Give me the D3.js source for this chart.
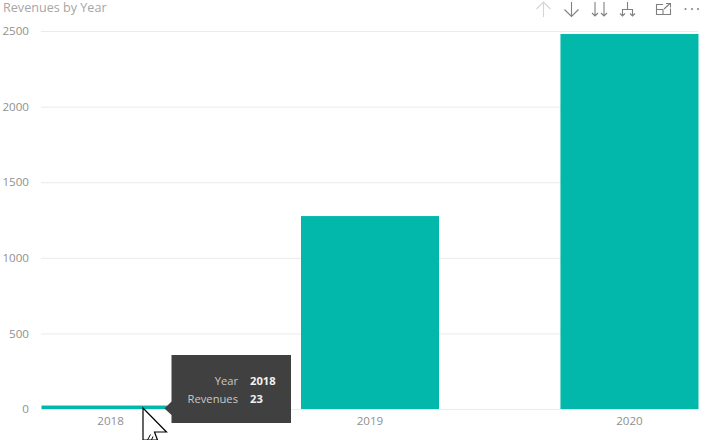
<!DOCTYPE html>
<html><head><meta charset="utf-8">
<script src="https://cdn.jsdelivr.net/npm/d3@7/dist/d3.min.js"></script>
<style>
html,body{margin:0;padding:0;background:#fff;overflow:hidden}
svg{display:block}
text{font-family:"Open Sans",sans-serif}
</style></head><body>
<svg id="c" width="701" height="440"></svg>
<script>
const years = ["2018","2019","2020"];
const revenues = [23,1276,2480];
const yTicks = [0,500,1000,1500,2000,2500];
const tooltipRows = [["Year","2018"],["Revenues","23"]];
const title = "Revenues by Year";

const svg = d3.select("#c");
const x = d3.scaleBand().domain(years).range([41.5,698.5]).paddingInner(0.468).paddingOuter(0);
const y = d3.scaleLinear().domain([0,2500]).range([409,31]);

// title
svg.append("text").attr("x",3).attr("y",12).attr("font-size",12.6).attr("fill","#a6a6a6").text(title);

// grid
svg.append("g").attr("class","grid").selectAll("line").data(yTicks).join("line")
  .attr("x1",41).attr("x2",698).attr("y1",d=>y(d)+.5).attr("y2",d=>y(d)+.5)
  .attr("stroke","#ebebeb").attr("stroke-width",1);

// y axis
const gy = svg.append("g").attr("transform","translate(29,0)")
  .call(d3.axisLeft(y).tickValues(yTicks).tickSize(0).tickPadding(0).tickFormat(d3.format("d")));
gy.select(".domain").remove();
gy.selectAll("text").attr("font-size",11.6).attr("font-family","'Open Sans',sans-serif").attr("fill","#8f8f8f");

// bars
svg.append("g").selectAll("rect").data(years).join("rect")
  .attr("x",d=>x(d)).attr("width",x.bandwidth())
  .attr("y",(d,i)=>y(revenues[i])).attr("height",(d,i)=>y(0)-y(revenues[i]))
  .attr("fill","#01b8aa");

// x axis
const gx = svg.append("g").attr("transform","translate(0,415)")
  .call(d3.axisBottom(x).tickSize(0).tickPadding(2));
gx.select(".domain").remove();
gx.selectAll("text").attr("font-size",11.6).attr("font-family","'Open Sans',sans-serif").attr("fill","#8f8f8f");

// tooltip
const tip = svg.append("g");
tip.append("rect").attr("x",171.5).attr("y",355).attr("width",119.5).attr("height",68).attr("fill","#404040");
tip.append("path").attr("d","M164.5 408.5L171.5 401.5L178 408.5L171.5 415Z").attr("fill","#404040");
tooltipRows.forEach((r,i)=>{
  const ty = 385 + i*18;
  tip.append("text").attr("x",238).attr("y",ty).attr("text-anchor","end").attr("font-size",11.2).attr("fill","#c8c8c8").text(r[0]);
  tip.append("text").attr("x",250).attr("y",ty).attr("font-size",11.2).attr("font-weight",700).attr("fill","#f2f2f2").text(r[1]);
});

// cursor
svg.append("path").attr("d","M143 408V440H157.5L154.5 432H166.5Z").attr("fill","#fff").attr("stroke","#000").attr("stroke-width",1.2);
svg.append("path").attr("d","M147.5 440L150.5 434.5M151.5 440L153 436.5").attr("fill","none").attr("stroke","#000").attr("stroke-width",1);

// header icons
const ic = svg.append("g").attr("fill","none").attr("stroke-width",1.1);
const dark="#808080", light="#d4d4d4";
ic.append("path").attr("stroke",light).attr("d","M543.5 17V2M536.5 9L543.5 2L550.5 9");
ic.append("path").attr("stroke",dark).attr("d","M571.5 2V16.5M564.5 9.5L571.5 16.5L578.5 9.5");
ic.append("path").attr("stroke",dark).attr("d","M595 2V16M592 13L595 16L598 13M604 2V16M601 13L604 16L607 13");
ic.append("path").attr("stroke",dark).attr("d","M627.5 2V9.5M622.5 16V9.5H632.5V16M620 13.5L622.5 16L625 13.5M630 13.5L632.5 16L635 13.5");
ic.append("path").attr("stroke",dark).attr("d","M663 4.5H656.5V14.5H670.5V8.5M656.5 9.5H663V14.5M664 9L670 3.5M666 3.5H670.5V7.5");
ic.append("g").attr("fill",dark).attr("stroke","none").selectAll("circle").data([685.5,692,698]).join("circle")
  .attr("cx",d=>d).attr("cy",9).attr("r",1);
</script>
</body></html>
